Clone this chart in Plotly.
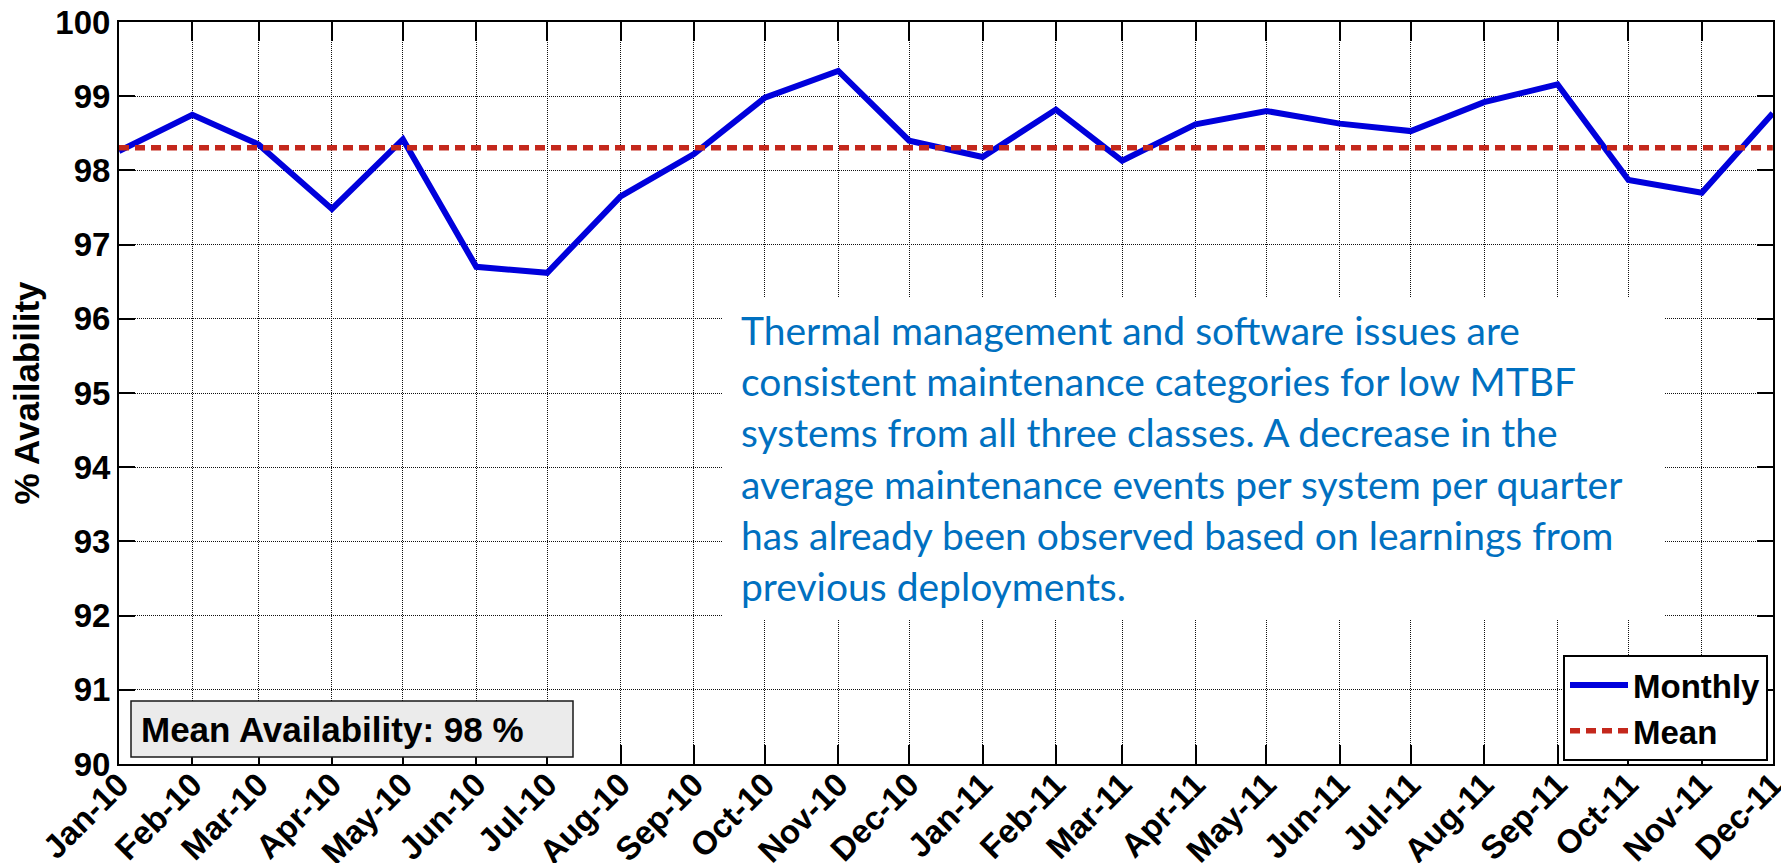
import numpy as np
import plotly.graph_objects as go

# ---- data -------------------------------------------------------------
months = [
    "2010-01-01", "2010-02-01", "2010-03-01", "2010-04-01", "2010-05-01", "2010-06-01",
    "2010-07-01", "2010-08-01", "2010-09-01", "2010-10-01", "2010-11-01", "2010-12-01",
    "2011-01-01", "2011-02-01", "2011-03-01", "2011-04-01", "2011-05-01", "2011-06-01",
    "2011-07-01", "2011-08-01", "2011-09-01", "2011-10-01", "2011-11-01", "2011-12-01",
]
tick_labels = [
    "Jan-10", "Feb-10", "Mar-10", "Apr-10", "May-10", "Jun-10",
    "Jul-10", "Aug-10", "Sep-10", "Oct-10", "Nov-10", "Dec-10",
    "Jan-11", "Feb-11", "Mar-11", "Apr-11", "May-11", "Jun-11",
    "Jul-11", "Aug-11", "Sep-11", "Oct-11", "Nov-11", "Dec-11",
]
availability = [
    98.26, 98.75, 98.35, 97.48, 98.42, 96.70, 96.62, 97.65, 98.22, 98.98, 99.34, 98.40,
    98.18, 98.82, 98.13, 98.62, 98.80, 98.63, 98.53, 98.92, 99.16, 97.87, 97.70, 98.77,
]
y_ticks = list(range(90, 101))

note_lines = [
    "Thermal management and software issues are",
    "consistent maintenance categories for low MTBF",
    "systems from all three classes. A decrease in the",
    "average maintenance events per system per quarter",
    "has already been observed based on learnings from",
    "previous deployments.",
]

mean_availability = float(np.mean(availability))

# ---- page geometry (pixels) --------------------------------------------
W, H = 1781, 863
ML, MR, MT, MB = 119, 8, 22, 99
PW, PH = W - ML - MR, H - MT - MB


def px_x(x):
    return (x - ML) / PW


def px_y(y):
    return (H - MB - y) / PH


BOLD = dict(family="Liberation Sans, Arial, sans-serif", color="black", weight="bold")

fig = go.Figure()

fig.add_trace(go.Scatter(
    x=months, y=availability, mode="lines", name="Monthly",
    line=dict(color="#0000DC", width=6),
))
fig.add_trace(go.Scatter(
    x=months, y=[mean_availability] * len(months), mode="lines", name="Mean",
    line=dict(color="#C4281C", width=5.5, dash="10px,6px"),
))

# end the date range a hair past the last month so its tick is kept
x_end = "2011-12-01 02:00"

fig.update_xaxes(
    type="date", range=[months[0], x_end],
    tickmode="array", tickvals=months, ticktext=tick_labels, tickangle=-45,
    tickfont=dict(size=33, **BOLD), ticklabelstandoff=-14, ticklabeloverflow="allow",
    showgrid=True, gridcolor="#111", griddash="1px,1px", gridwidth=1,
    showline=True, linecolor="black", linewidth=2, mirror="ticks",
    ticks="inside", ticklen=19, tickwidth=1.5, tickcolor="black",
    zeroline=False, automargin=False,
)
fig.update_yaxes(
    range=[90, 100], tickmode="array", tickvals=y_ticks,
    tickfont=dict(size=33, **BOLD),
    title=dict(text="% Availability", font=dict(size=35, **BOLD), standoff=5),
    showgrid=True, gridcolor="#111", griddash="1px,1px", gridwidth=1,
    showline=True, linecolor="black", linewidth=2, mirror="ticks",
    ticks="inside", ticklen=16, tickwidth=1.5, tickcolor="black",
    zeroline=False, automargin=False,
)

shapes = [
    # white panel behind the note text
    dict(type="rect", xref="paper", yref="paper", layer="above",
         x0=px_x(722), x1=px_x(1664), y0=px_y(620), y1=px_y(298),
         fillcolor="white", line=dict(width=0)),
    # grey box for the mean summary
    dict(type="rect", xref="paper", yref="paper", layer="above",
         x0=px_x(131), x1=px_x(573), y0=px_y(757), y1=px_y(701),
         fillcolor="#EBEBEB", line=dict(color="#1A1A1A", width=1.5)),
]

annotations = [
    dict(xref="paper", yref="paper", x=px_x(139), y=px_y(729),
         xanchor="left", yanchor="middle", showarrow=False,
         text=f"Mean Availability: {mean_availability:.0f} %",
         font=dict(size=35, **BOLD)),
]
NOTE_FIRST, NOTE_STEP = 330, 51.2
for i, line in enumerate(note_lines):
    annotations.append(dict(
        xref="paper", yref="paper", x=px_x(739), y=px_y(NOTE_FIRST + i * NOTE_STEP),
        xanchor="left", yanchor="middle", showarrow=False, text=line,
        font=dict(family="Lato, Carlito, sans-serif", size=39, color="#0070C0"),
    ))

fig.update_layout(
    width=W, height=H,
    margin=dict(l=ML, r=MR, t=MT, b=MB, pad=0),
    paper_bgcolor="white", plot_bgcolor="white",
    shapes=shapes, annotations=annotations,
    showlegend=True,
    legend=dict(
        x=px_x(1768), y=px_y(761), xanchor="right", yanchor="bottom",
        bgcolor="white", bordercolor="black", borderwidth=2,
        font=dict(size=33, **BOLD), itemwidth=58, tracegroupgap=0,
    ),
)

fig.write_html("out.html")
